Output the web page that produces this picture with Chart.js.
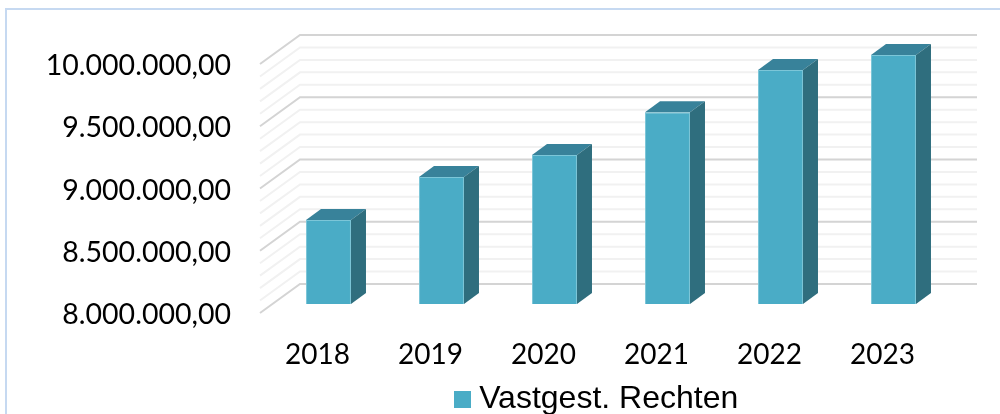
<!DOCTYPE html>
<html>
<head>
<meta charset="utf-8">
<title>Vastgest. Rechten</title>
<script src="https://cdn.jsdelivr.net/npm/chart.js@4"></script>
<style>
  html, body { margin: 0; padding: 0; background: #fff; }
  #wrap { position: relative; width: 1000px; height: 414px; overflow: hidden; }
  #frame { position: absolute; left: 5px; top: 8px; width: 1000px; height: 420px; box-sizing: border-box; border: 2px solid #c6d9f1; }
  canvas { position: absolute; left: 0; top: 0; }
</style>
</head>
<body>
<div id="wrap">
  <div id="frame"></div>
  <canvas id="chart" width="1000" height="414"></canvas>
</div>
<script>
const years = ['2018', '2019', '2020', '2021', '2022', '2023'];
const rechten = [8675000, 9020000, 9197000, 9540000, 9880000, 10000000];
const seriesName = 'Vastgest. Rechten';

const fmt = new Intl.NumberFormat('nl-NL', { minimumFractionDigits: 2, maximumFractionDigits: 2 });

// fake 3d: the walls and the bar sides are offset from the real scale positions
const wall = { dx: 28, dy: -20, frontDx: -12, frontDy: 9 };
const barDepth = { dx: 15, dy: -11 };

// legend swatch, chart.js leaves too big a gap after a normal box
const swatch = document.createElement('canvas');
swatch.width = 17;
swatch.height = 17;
swatch.getContext('2d').fillStyle = '#4aacc6';
swatch.getContext('2d').fillRect(0, 0, 17, 17);

const fake3d = {
    id: 'fake3d',
    afterLayout(chart) {
        // legend sits right of the centre of the canvas, align end keeps the swatch inside its clip
        const legend = chart.legend;
        legend.left = 440;
        legend.right = 461.85 + legend.lineWidths[0];
        legend.top += 11;
        legend.bottom = 414;
    },
    beforeDatasetsDraw(chart) {
        const ctx = chart.ctx;
        const y = chart.scales.y;
        const area = chart.chartArea;
        ctx.save();
        ctx.lineWidth = 2;
        for (let v = y.min; v <= y.max + 1; v += 100000) {
            const py = y.getPixelForValue(v);
            ctx.strokeStyle = (v - y.min) % 500000 === 0 ? '#d4d4d4' : '#f1f1f1';
            ctx.beginPath();
            ctx.moveTo(area.left + wall.frontDx, py + wall.frontDy);
            ctx.lineTo(area.left + wall.dx, py + wall.dy);
            ctx.lineTo(area.right + wall.dx - 1, py + wall.dy);
            ctx.stroke();
        }
        ctx.restore();
    },
    afterDatasetsDraw(chart) {
        const ctx = chart.ctx;
        const bottom = chart.scales.y.getPixelForValue(chart.scales.y.min);
        ctx.save();
        chart.getDatasetMeta(0).data.forEach((bar) => {
            const half = bar.width / 2;
            const l = bar.x - half, r = bar.x + half;
            ctx.fillStyle = '#38829a';
            ctx.beginPath();
            ctx.moveTo(l, bar.y);
            ctx.lineTo(l + barDepth.dx, bar.y + barDepth.dy);
            ctx.lineTo(r + barDepth.dx, bar.y + barDepth.dy);
            ctx.lineTo(r, bar.y);
            ctx.closePath();
            ctx.fill();
            ctx.fillStyle = '#2f6e7e';
            ctx.beginPath();
            ctx.moveTo(r, bar.y);
            ctx.lineTo(r + barDepth.dx, bar.y + barDepth.dy);
            ctx.lineTo(r + barDepth.dx, bottom + barDepth.dy);
            ctx.lineTo(r, bottom);
            ctx.closePath();
            ctx.fill();
        });
        ctx.restore();
    }
};

new Chart(document.getElementById('chart').getContext('2d'), {
    type: 'bar',
    plugins: [fake3d],
    data: {
        labels: years,
        datasets: [{
            label: seriesName,
            data: rechten,
            backgroundColor: '#4aacc6',
            borderColor: '#7cc6d8',
            borderWidth: 1,
            categoryPercentage: 1,
            barPercentage: 0.398,
            pointStyle: swatch
        }]
    },
    options: {
        responsive: false,
        animation: false,
        layout: { autoPadding: false, padding: { top: 55, right: 50, left: 0, bottom: 0 } },
        plugins: {
            tooltip: { enabled: false },
            legend: {
                position: 'bottom',
                align: 'end',
                labels: {
                    usePointStyle: true,
                    pointStyleWidth: 1.3,
                    padding: 0,
                    color: '#000',
                    font: { family: '"Liberation Sans"', size: 32 }
                }
            }
        },
        scales: {
            x: {
                grid: { display: false },
                border: { display: false },
                ticks: { color: '#000', padding: 26, labelOffset: -11, maxRotation: 0, font: { family: 'Lato', size: 28 } },
                afterFit(scale) { scale.height = 68; }
            },
            y: {
                min: 8000000,
                max: 10000000,
                grid: { display: false },
                border: { display: false },
                ticks: {
                    stepSize: 500000,
                    padding: 33,
                    labelOffset: 11,
                    color: '#000',
                    font: { family: 'Lato', size: 28.5 },
                    callback: (v) => fmt.format(v)
                },
                afterFit(scale) { scale.width = 272; }
            }
        }
    }
});
</script>
</body>
</html>
